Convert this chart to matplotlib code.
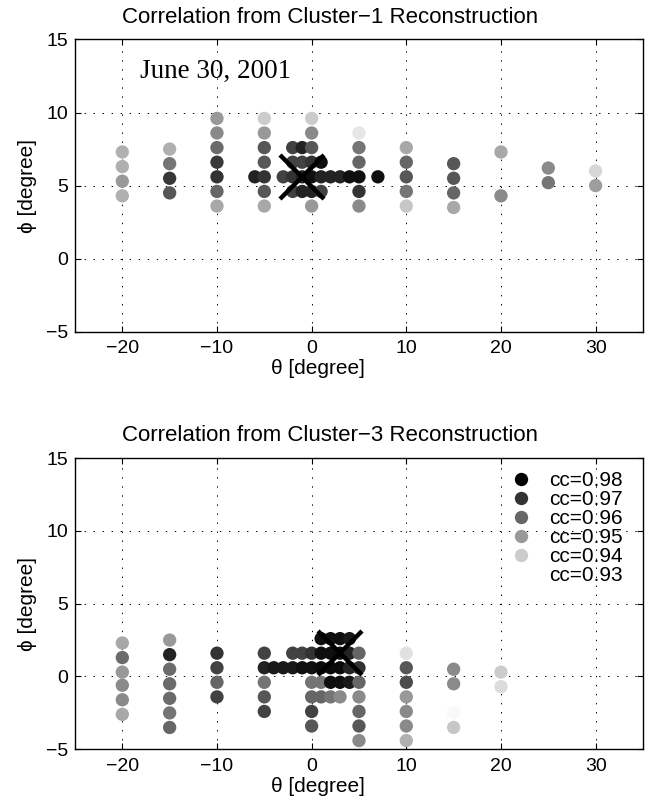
import matplotlib
matplotlib.use("Agg")
import matplotlib.pyplot as plt
from matplotlib.lines import Line2D
from matplotlib.colors import Normalize
import numpy as np

plt.rcParams['lines.scale_dashes'] = False
plt.rcParams['font.family'] = ['Liberation Sans', 'DejaVu Sans']

# ---------------- data: Cluster-1 (top) ----------------
theta1 = [-20, -20, -20, -20,
          -15, -15, -15, -15,
          -10, -10, -10, -10, -10, -10, -10,
          -6,
          -5, -5, -5, -5, -5, -5, -5,
          -3,
          -2, -2, -2, -2,
          -1, -1, -1, -1,
          0, 0, 0, 0, 0, 0, 0,
          1, 1, 1,
          2, 3, 4,
          5, 5, 5, 5, 5, 5,
          7,
          10, 10, 10, 10, 10,
          15, 15, 15, 15,
          20, 20,
          25, 25,
          30, 30]
phi1 = [7.3, 6.3, 5.3, 4.3,
        7.5, 6.5, 5.5, 4.5,
        9.6, 8.6, 7.6, 6.6, 5.6, 4.6, 3.6,
        5.6,
        9.6, 8.6, 7.6, 6.6, 5.6, 4.6, 3.6,
        5.6,
        7.6, 6.6, 5.6, 4.6,
        7.6, 6.6, 5.6, 4.6,
        9.6, 8.6, 7.6, 6.6, 5.6, 4.6, 3.6,
        6.6, 5.6, 4.6,
        5.6, 5.6, 5.6,
        8.6, 7.6, 6.6, 5.6, 4.6, 3.6,
        5.6,
        7.6, 6.6, 5.6, 4.6, 3.6,
        6.5, 5.5, 4.5, 3.5,
        7.3, 4.3,
        6.2, 5.2,
        6.0, 5.0]
cc1 = [0.9455, 0.9455, 0.950, 0.9455,
       0.9455, 0.957, 0.969, 0.963,
       0.950, 0.953, 0.959, 0.969, 0.970, 0.960, 0.947,
       0.973,
       0.940, 0.950, 0.963, 0.963, 0.970, 0.963, 0.947,
       0.967,
       0.967, 0.967, 0.970, 0.967,
       0.973, 0.967, 0.973, 0.973,
       0.940, 0.953, 0.963, 0.970, 0.977, 0.973, 0.950,
       0.977, 0.973, 0.967,
       0.973, 0.973, 0.977,
       0.935, 0.957, 0.960, 0.977, 0.970, 0.953,
       0.977,
       0.947, 0.960, 0.963, 0.957, 0.941,
       0.963, 0.963, 0.960, 0.947,
       0.947, 0.953,
       0.953, 0.957,
       0.938, 0.949]
best1 = (-1, 5.6)

# ---------------- data: Cluster-3 (bottom) ----------------
theta3 = [-20, -20, -20, -20, -20, -20,
          -15, -15, -15, -15, -15, -15, -15,
          -10, -10, -10, -10,
          -5, -5, -5, -5, -5,
          -4, -3,
          -2, -2,
          -1, -1,
          0, 0, 0, 0, 0, 0,
          1, 1, 1, 1, 1,
          2, 2, 2, 2, 2,
          3, 3, 3, 3, 3,
          4, 4, 4, 4,
          5, 5, 5, 5, 5, 5, 5,
          10, 10, 10, 10, 10, 10, 10,
          15, 15, 15, 15,
          20, 20]
phi3 = [2.3, 1.3, 0.3, -0.6, -1.6, -2.6,
        2.5, 1.5, 0.5, -0.5, -1.5, -2.5, -3.5,
        1.6, 0.6, -0.4, -1.4,
        1.6, 0.6, -0.4, -1.4, -2.4,
        0.6, 0.6,
        1.6, 0.6,
        1.6, 0.6,
        1.6, 0.6, -0.4, -1.4, -2.4, -3.4,
        2.6, 1.6, 0.6, -0.4, -1.4,
        2.6, 1.6, 0.6, -0.4, -1.4,
        2.6, 1.6, 0.6, -0.4, -1.4,
        2.6, 1.6, 0.6, -0.4,
        1.6, 0.6, -0.4, -1.4, -2.4, -3.4, -4.4,
        1.6, 0.6, -0.4, -1.4, -2.4, -3.4, -4.4,
        0.5, -0.5, -2.5, -3.5,
        0.3, -0.7]
cc3 = [0.947, 0.959, 0.950, 0.953, 0.953, 0.947,
       0.950, 0.973, 0.959, 0.959, 0.959, 0.957, 0.960,
       0.970, 0.967, 0.960, 0.967,
       0.967, 0.973, 0.957, 0.963, 0.967,
       0.975, 0.975,
       0.967, 0.975,
       0.967, 0.977,
       0.970, 0.977, 0.957, 0.960, 0.967, 0.963,
       0.977, 0.977, 0.978, 0.957, 0.960,
       0.977, 0.977, 0.978, 0.977, 0.957,
       0.977, 0.977, 0.978, 0.977, 0.953,
       0.975, 0.973, 0.973, 0.975,
       0.960, 0.970, 0.960, 0.953, 0.960, 0.963, 0.953,
       0.936, 0.963, 0.965, 0.950, 0.953, 0.953, 0.9455,
       0.953, 0.953, 0.9315, 0.941,
       0.940, 0.937]
best3 = (3, 1.6)

legend_levels = [0.98, 0.97, 0.96, 0.95, 0.94, 0.93]
xticks = [-20, -10, 0, 10, 20, 30]
yticks = [-5, 0, 5, 10, 15]

cmap = plt.get_cmap('gray_r')
norm = Normalize(vmin=0.93, vmax=0.98)

fig = plt.figure(figsize=(6.6, 8.09), dpi=100)
ax1 = fig.add_axes([0.1136, 0.5900, 0.8606, 0.3612])
ax3 = fig.add_axes([0.1136, 0.0738, 0.8606, 0.3600])

TICK_FS = 14
LAB_FS = 15
TITLE_FS = 16
LEG_FS = 15


def style(ax, title):
    ax.set_xlim(-25, 35)
    ax.set_ylim(-5, 15)
    ax.set_xticks(xticks)
    ax.set_yticks(yticks)
    ax.grid(True, color='k', linestyle=(0, (1.0, 5.5)), linewidth=0.7)
    ax.tick_params(direction='in', top=True, right=True, length=4.5,
                   width=0.8, labelsize=TICK_FS, color='k')
    ax.tick_params(axis='x', pad=6)
    ax.tick_params(axis='y', pad=5)
    for s in ax.spines.values():
        s.set_linewidth(1.0)
    ax.set_xlabel('\u03b8 [degree]', fontsize=LAB_FS, labelpad=3)
    ax.xaxis.set_label_coords(0.428, -0.095)
    ax.set_ylabel('\u03d5 [degree]', fontsize=LAB_FS, labelpad=6)
    ax.set_title(title, fontsize=TITLE_FS, pad=12, x=0.449)
    ax.set_axisbelow(True)


for ax, th, ph, cc, best, title in [
        (ax1, theta1, phi1, cc1, best1, 'Correlation from Cluster\u22121 Reconstruction'),
        (ax3, theta3, phi3, cc3, best3, 'Correlation from Cluster\u22123 Reconstruction')]:
    style(ax, title)
    ax.scatter(th, ph, c=cc, cmap=cmap, norm=norm, s=92, edgecolors='none',
               zorder=3)
    ax.plot([best[0]], [best[1]], marker='x', color='k', markersize=31,
            markeredgewidth=3.2, linestyle='none', zorder=4)

ax1.text(-18.1, 12.36, 'June 30, 2001', family=['Liberation Serif', 'DejaVu Serif'],
         fontsize=19.5, va='baseline', ha='left')

handles = [Line2D([], [], marker='o', linestyle='none', markersize=9.6,
                  markerfacecolor=cmap(norm(v)), markeredgecolor='none')
           for v in legend_levels]
labels = ['cc=%.2f' % v for v in legend_levels]
ax3.legend(handles, labels, loc='upper left', bbox_to_anchor=(0.7664, 0.955),
           frameon=False, fontsize=LEG_FS, labelspacing=0.0,
           handlelength=1.0, handletextpad=0.875, borderpad=0, borderaxespad=0)

fig.savefig('out.png', dpi=100)
